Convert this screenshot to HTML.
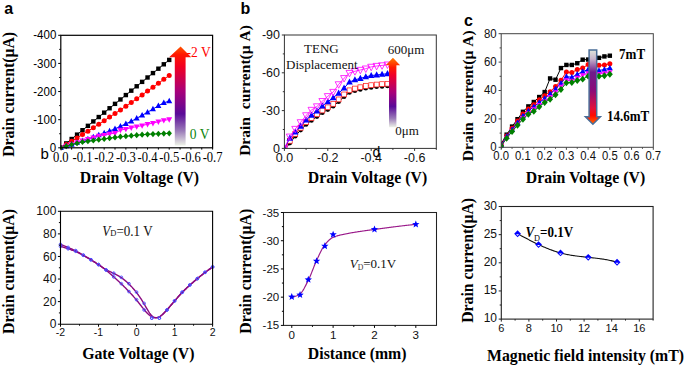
<!DOCTYPE html>
<html><head><meta charset="utf-8"><style>
html,body{margin:0;padding:0;background:#fff;}
body{width:685px;height:366px;overflow:hidden;}
svg{display:block;}
</style></head><body>
<svg width="685" height="366" viewBox="0 0 685 366">
<rect width="685" height="366" fill="#fff"/>
<defs>
<linearGradient id="ga" x1="0" y1="0" x2="0" y2="1">
<stop offset="0" stop-color="#ff5500"/>
<stop offset="0.08" stop-color="#ff1800"/>
<stop offset="0.2" stop-color="#f20020"/>
<stop offset="0.45" stop-color="#a8007a"/>
<stop offset="0.68" stop-color="#5a0a98"/>
<stop offset="0.85" stop-color="#9a7ab8"/>
<stop offset="1" stop-color="#eef3e8"/>
</linearGradient>
<linearGradient id="gb" x1="0" y1="0" x2="0" y2="1">
<stop offset="0" stop-color="#ff7a00"/>
<stop offset="0.14" stop-color="#ff1a00"/>
<stop offset="0.25" stop-color="#f0002a"/>
<stop offset="0.5" stop-color="#a8007a"/>
<stop offset="0.7" stop-color="#5a0a98"/>
<stop offset="0.87" stop-color="#9a7ab8"/>
<stop offset="1" stop-color="#eef3e8"/>
</linearGradient>
<linearGradient id="gc" x1="0" y1="0" x2="0" y2="1">
<stop offset="0" stop-color="#dfe6dc"/>
<stop offset="0.12" stop-color="#c8b4cc"/>
<stop offset="0.3" stop-color="#6e1c8c"/>
<stop offset="0.55" stop-color="#8c0a78"/>
<stop offset="0.78" stop-color="#e0103c"/>
<stop offset="0.88" stop-color="#ff0a00"/>
<stop offset="1" stop-color="#ff6a00"/>
</linearGradient>
</defs>
<clipPath id="cpa"><rect x="60.8" y="35.3" width="151.8" height="115.5"/></clipPath><g clip-path="url(#cpa)">
<polyline points="60.8,147.8 66.22,143.41 71.64,139.01 77.06,134.62 82.49,130.22 87.91,125.83 93.33,121.43 98.75,117.04 104.17,112.64 109.59,108.25 115.01,103.85 120.44,99.46 125.86,95.07 131.28,90.67 136.7,86.28 142.12,81.88 147.54,77.49 152.96,73.09 158.39,68.7 163.81,64.3 169.23,59.91" stroke="#000" stroke-width="1" fill="none" stroke-linejoin="round"/>
<rect x="58.6" y="145.6" width="4.4" height="4.4" fill="#000" />
<rect x="64.02" y="141.21" width="4.4" height="4.4" fill="#000" />
<rect x="69.44" y="136.81" width="4.4" height="4.4" fill="#000" />
<rect x="74.86" y="132.42" width="4.4" height="4.4" fill="#000" />
<rect x="80.29" y="128.02" width="4.4" height="4.4" fill="#000" />
<rect x="85.71" y="123.63" width="4.4" height="4.4" fill="#000" />
<rect x="91.13" y="119.23" width="4.4" height="4.4" fill="#000" />
<rect x="96.55" y="114.84" width="4.4" height="4.4" fill="#000" />
<rect x="101.97" y="110.44" width="4.4" height="4.4" fill="#000" />
<rect x="107.39" y="106.05" width="4.4" height="4.4" fill="#000" />
<rect x="112.81" y="101.65" width="4.4" height="4.4" fill="#000" />
<rect x="118.24" y="97.26" width="4.4" height="4.4" fill="#000" />
<rect x="123.66" y="92.87" width="4.4" height="4.4" fill="#000" />
<rect x="129.08" y="88.47" width="4.4" height="4.4" fill="#000" />
<rect x="134.5" y="84.08" width="4.4" height="4.4" fill="#000" />
<rect x="139.92" y="79.68" width="4.4" height="4.4" fill="#000" />
<rect x="145.34" y="75.29" width="4.4" height="4.4" fill="#000" />
<rect x="150.76" y="70.89" width="4.4" height="4.4" fill="#000" />
<rect x="156.19" y="66.5" width="4.4" height="4.4" fill="#000" />
<rect x="161.61" y="62.1" width="4.4" height="4.4" fill="#000" />
<rect x="167.03" y="57.71" width="4.4" height="4.4" fill="#000" />
<polyline points="60.8,147.8 66.22,144.55 71.64,141.25 77.06,137.92 82.49,134.55 87.91,131.14 93.33,127.7 98.75,124.21 104.17,120.69 109.59,117.12 115.01,113.52 120.44,109.88 125.86,106.2 131.28,102.49 136.7,98.73 142.12,94.93 147.54,91.1 152.96,87.23 158.39,83.32 163.81,79.37 169.23,75.38" stroke="#f00" stroke-width="1" fill="none" stroke-linejoin="round"/>
<circle cx="60.8" cy="147.8" r="2.5" fill="#f00" />
<circle cx="66.22" cy="144.55" r="2.5" fill="#f00" />
<circle cx="71.64" cy="141.25" r="2.5" fill="#f00" />
<circle cx="77.06" cy="137.92" r="2.5" fill="#f00" />
<circle cx="82.49" cy="134.55" r="2.5" fill="#f00" />
<circle cx="87.91" cy="131.14" r="2.5" fill="#f00" />
<circle cx="93.33" cy="127.7" r="2.5" fill="#f00" />
<circle cx="98.75" cy="124.21" r="2.5" fill="#f00" />
<circle cx="104.17" cy="120.69" r="2.5" fill="#f00" />
<circle cx="109.59" cy="117.12" r="2.5" fill="#f00" />
<circle cx="115.01" cy="113.52" r="2.5" fill="#f00" />
<circle cx="120.44" cy="109.88" r="2.5" fill="#f00" />
<circle cx="125.86" cy="106.2" r="2.5" fill="#f00" />
<circle cx="131.28" cy="102.49" r="2.5" fill="#f00" />
<circle cx="136.7" cy="98.73" r="2.5" fill="#f00" />
<circle cx="142.12" cy="94.93" r="2.5" fill="#f00" />
<circle cx="147.54" cy="91.1" r="2.5" fill="#f00" />
<circle cx="152.96" cy="87.23" r="2.5" fill="#f00" />
<circle cx="158.39" cy="83.32" r="2.5" fill="#f00" />
<circle cx="163.81" cy="79.37" r="2.5" fill="#f00" />
<circle cx="169.23" cy="75.38" r="2.5" fill="#f00" />
<polyline points="60.8,147.8 66.22,146.11 71.64,144.43 77.06,142.6 82.49,140.77 87.91,138.94 93.33,136.97 98.75,135 104.17,133.03 109.59,130.93 115.01,128.82 120.44,126.28 125.86,123.78 131.28,121.36 136.7,118.3 142.12,115.22 147.54,112.22 152.96,109.02 158.39,105.75 163.81,102.79 169.23,101.11" stroke="#00f" stroke-width="1" fill="none" stroke-linejoin="round"/>
<polygon points="60.8,144.5 63.8,150.05 57.8,150.05" fill="#00f" />
<polygon points="66.22,142.81 69.22,148.36 63.22,148.36" fill="#00f" />
<polygon points="71.64,141.12 74.64,146.68 68.64,146.68" fill="#00f" />
<polygon points="77.06,139.3 80.06,144.85 74.06,144.85" fill="#00f" />
<polygon points="82.49,137.47 85.49,143.02 79.49,143.02" fill="#00f" />
<polygon points="87.91,135.64 90.91,141.19 84.91,141.19" fill="#00f" />
<polygon points="93.33,133.67 96.33,139.22 90.33,139.22" fill="#00f" />
<polygon points="98.75,131.7 101.75,137.25 95.75,137.25" fill="#00f" />
<polygon points="104.17,129.73 107.17,135.28 101.17,135.28" fill="#00f" />
<polygon points="109.59,127.63 112.59,133.18 106.59,133.18" fill="#00f" />
<polygon points="115.01,125.52 118.01,131.07 112.01,131.07" fill="#00f" />
<polygon points="120.44,122.98 123.44,128.53 117.44,128.53" fill="#00f" />
<polygon points="125.86,120.48 128.86,126.03 122.86,126.03" fill="#00f" />
<polygon points="131.28,118.06 134.28,123.61 128.28,123.61" fill="#00f" />
<polygon points="136.7,115 139.7,120.55 133.7,120.55" fill="#00f" />
<polygon points="142.12,111.92 145.12,117.47 139.12,117.47" fill="#00f" />
<polygon points="147.54,108.92 150.54,114.47 144.54,114.47" fill="#00f" />
<polygon points="152.96,105.72 155.96,111.27 149.96,111.27" fill="#00f" />
<polygon points="158.39,102.45 161.39,108 155.39,108" fill="#00f" />
<polygon points="163.81,99.49 166.81,105.04 160.81,105.04" fill="#00f" />
<polygon points="169.23,97.81 172.23,103.36 166.23,103.36" fill="#00f" />
<polyline points="60.8,147.8 66.22,145.97 71.64,144.14 77.06,142.46 82.49,140.77 87.91,139.22 93.33,137.68 98.75,136.06 104.17,135.09 109.59,133.96 115.01,133.19 120.44,130.08 125.86,129.1 131.28,127.69 136.7,126.63 142.12,125.61 147.54,124.2 152.96,123.13 158.39,121.73 163.81,120.35 169.23,119.53" stroke="#f0f" stroke-width="1" fill="none" stroke-linejoin="round"/>
<polygon points="60.8,151.05 63.75,145.59 57.85,145.59" fill="#f0f" />
<polygon points="66.22,149.22 69.17,143.76 63.27,143.76" fill="#f0f" />
<polygon points="71.64,147.39 74.59,141.93 68.69,141.93" fill="#f0f" />
<polygon points="77.06,145.7 80.01,140.24 74.11,140.24" fill="#f0f" />
<polygon points="82.49,144.01 85.44,138.56 79.54,138.56" fill="#f0f" />
<polygon points="87.91,142.47 90.86,137.01 84.96,137.01" fill="#f0f" />
<polygon points="93.33,140.92 96.28,135.46 90.38,135.46" fill="#f0f" />
<polygon points="98.75,139.31 101.7,133.85 95.8,133.85" fill="#f0f" />
<polygon points="104.17,138.33 107.12,132.88 101.22,132.88" fill="#f0f" />
<polygon points="109.59,137.21 112.54,131.75 106.64,131.75" fill="#f0f" />
<polygon points="115.01,136.44 117.96,130.98 112.06,130.98" fill="#f0f" />
<polygon points="120.44,133.33 123.39,127.87 117.49,127.87" fill="#f0f" />
<polygon points="125.86,132.34 128.81,126.88 122.91,126.88" fill="#f0f" />
<polygon points="131.28,130.94 134.23,125.48 128.33,125.48" fill="#f0f" />
<polygon points="136.7,129.87 139.65,124.42 133.75,124.42" fill="#f0f" />
<polygon points="142.12,128.85 145.07,123.39 139.17,123.39" fill="#f0f" />
<polygon points="147.54,127.45 150.49,121.99 144.59,121.99" fill="#f0f" />
<polygon points="152.96,126.38 155.91,120.92 150.01,120.92" fill="#f0f" />
<polygon points="158.39,124.97 161.34,119.52 155.44,119.52" fill="#f0f" />
<polygon points="163.81,123.59 166.76,118.13 160.86,118.13" fill="#f0f" />
<polygon points="169.23,122.78 172.18,117.32 166.28,117.32" fill="#f0f" />
<polyline points="60.8,147.8 66.22,146.15 71.64,144.51 77.06,143.26 82.49,142.01 87.91,141.25 93.33,140.49 98.75,139.69 104.17,138.88 109.59,138.15 115.01,137.42 120.44,136.73 125.86,136.2 131.28,135.67 136.7,135.14 142.12,134.72 147.54,134.3 152.96,134.05 158.39,133.81 163.81,133.56 169.23,133.32" stroke="#008000" stroke-width="1" fill="none" stroke-linejoin="round"/>
<polygon points="60.8,144.7 63.5,147.8 60.8,150.91 58.1,147.8" fill="#008000" />
<polygon points="66.22,143.05 68.92,146.15 66.22,149.26 63.52,146.15" fill="#008000" />
<polygon points="71.64,141.4 74.34,144.51 71.64,147.61 68.94,144.51" fill="#008000" />
<polygon points="77.06,140.15 79.76,143.26 77.06,146.36 74.36,143.26" fill="#008000" />
<polygon points="82.49,138.9 85.19,142.01 82.49,145.11 79.79,142.01" fill="#008000" />
<polygon points="87.91,138.14 90.61,141.25 87.91,144.35 85.21,141.25" fill="#008000" />
<polygon points="93.33,137.38 96.03,140.49 93.33,143.59 90.63,140.49" fill="#008000" />
<polygon points="98.75,136.58 101.45,139.69 98.75,142.79 96.05,139.69" fill="#008000" />
<polygon points="104.17,135.78 106.87,138.88 104.17,141.99 101.47,138.88" fill="#008000" />
<polygon points="109.59,135.05 112.29,138.15 109.59,141.26 106.89,138.15" fill="#008000" />
<polygon points="115.01,134.31 117.71,137.42 115.01,140.52 112.31,137.42" fill="#008000" />
<polygon points="120.44,133.62 123.14,136.73 120.44,139.83 117.74,136.73" fill="#008000" />
<polygon points="125.86,133.09 128.56,136.2 125.86,139.3 123.16,136.2" fill="#008000" />
<polygon points="131.28,132.57 133.98,135.67 131.28,138.78 128.58,135.67" fill="#008000" />
<polygon points="136.7,132.04 139.4,135.14 136.7,138.25 134,135.14" fill="#008000" />
<polygon points="142.12,131.62 144.82,134.72 142.12,137.83 139.42,134.72" fill="#008000" />
<polygon points="147.54,131.2 150.24,134.3 147.54,137.41 144.84,134.3" fill="#008000" />
<polygon points="152.96,130.95 155.66,134.05 152.96,137.16 150.26,134.05" fill="#008000" />
<polygon points="158.39,130.7 161.09,133.81 158.39,136.91 155.69,133.81" fill="#008000" />
<polygon points="163.81,130.46 166.51,133.56 163.81,136.67 161.11,133.56" fill="#008000" />
<polygon points="169.23,130.21 171.93,133.32 169.23,136.42 166.53,133.32" fill="#008000" />
</g>
<text transform="translate(186.6,56.8) scale(0.89,1)" font-family='"Liberation Serif", serif' font-size="15.2" text-anchor="start" font-weight="normal" font-style="normal" fill="#f00" xml:space="preserve">-2 V</text>
<path d="M174.8,145.6 L174.8,57.2 L169.1,57.2 L180.6,46.6 L191.2,57.2 L185.6,57.2 L185.6,145.6 Z" fill="url(#ga)"/>
<text transform="translate(189.8,138.5) scale(0.89,1)" font-family='"Liberation Serif", serif' font-size="15.2" text-anchor="start" font-weight="normal" font-style="normal" fill="#0a840a" >0 V</text>
<rect x="60.8" y="35.3" width="151.8" height="112.5" fill="none" stroke="#000" stroke-width="1.2"/>
<line x1="58.2" y1="147.8" x2="60.8" y2="147.8" stroke="#000" stroke-width="1"/>
<line x1="59.2" y1="133.74" x2="60.8" y2="133.74" stroke="#000" stroke-width="1"/>
<line x1="58.2" y1="119.68" x2="60.8" y2="119.68" stroke="#000" stroke-width="1"/>
<line x1="59.2" y1="105.61" x2="60.8" y2="105.61" stroke="#000" stroke-width="1"/>
<line x1="58.2" y1="91.55" x2="60.8" y2="91.55" stroke="#000" stroke-width="1"/>
<line x1="59.2" y1="77.49" x2="60.8" y2="77.49" stroke="#000" stroke-width="1"/>
<line x1="58.2" y1="63.42" x2="60.8" y2="63.42" stroke="#000" stroke-width="1"/>
<line x1="59.2" y1="49.36" x2="60.8" y2="49.36" stroke="#000" stroke-width="1"/>
<line x1="58.2" y1="35.3" x2="60.8" y2="35.3" stroke="#000" stroke-width="1"/>
<line x1="60.8" y1="147.8" x2="60.8" y2="149.6" stroke="#000" stroke-width="1"/>
<line x1="71.64" y1="147.8" x2="71.64" y2="149.6" stroke="#000" stroke-width="1"/>
<line x1="82.49" y1="147.8" x2="82.49" y2="149.6" stroke="#000" stroke-width="1"/>
<line x1="93.33" y1="147.8" x2="93.33" y2="149.6" stroke="#000" stroke-width="1"/>
<line x1="104.17" y1="147.8" x2="104.17" y2="149.6" stroke="#000" stroke-width="1"/>
<line x1="115.01" y1="147.8" x2="115.01" y2="149.6" stroke="#000" stroke-width="1"/>
<line x1="125.86" y1="147.8" x2="125.86" y2="149.6" stroke="#000" stroke-width="1"/>
<line x1="136.7" y1="147.8" x2="136.7" y2="149.6" stroke="#000" stroke-width="1"/>
<line x1="147.54" y1="147.8" x2="147.54" y2="149.6" stroke="#000" stroke-width="1"/>
<line x1="158.39" y1="147.8" x2="158.39" y2="149.6" stroke="#000" stroke-width="1"/>
<line x1="169.23" y1="147.8" x2="169.23" y2="149.6" stroke="#000" stroke-width="1"/>
<line x1="180.07" y1="147.8" x2="180.07" y2="149.6" stroke="#000" stroke-width="1"/>
<line x1="190.91" y1="147.8" x2="190.91" y2="149.6" stroke="#000" stroke-width="1"/>
<line x1="201.76" y1="147.8" x2="201.76" y2="149.6" stroke="#000" stroke-width="1"/>
<line x1="212.6" y1="147.8" x2="212.6" y2="149.6" stroke="#000" stroke-width="1"/>
<text transform="translate(56.3,151.9) scale(0.93,1)" font-family='"Liberation Sans", sans-serif' font-size="12.4" text-anchor="end" font-weight="normal" font-style="normal" fill="#000" >0</text>
<text transform="translate(56.3,123.78) scale(0.93,1)" font-family='"Liberation Sans", sans-serif' font-size="12.4" text-anchor="end" font-weight="normal" font-style="normal" fill="#000" >-100</text>
<text transform="translate(56.3,95.65) scale(0.93,1)" font-family='"Liberation Sans", sans-serif' font-size="12.4" text-anchor="end" font-weight="normal" font-style="normal" fill="#000" >-200</text>
<text transform="translate(56.3,67.52) scale(0.93,1)" font-family='"Liberation Sans", sans-serif' font-size="12.4" text-anchor="end" font-weight="normal" font-style="normal" fill="#000" >-300</text>
<text transform="translate(56.3,39.4) scale(0.93,1)" font-family='"Liberation Sans", sans-serif' font-size="12.4" text-anchor="end" font-weight="normal" font-style="normal" fill="#000" >-400</text>
<text transform="translate(60.8,161.7) scale(0.9,1)" font-family='"Liberation Serif", serif' font-size="14" text-anchor="middle" fill="#000">0.0</text>
<text transform="translate(82.49,161.7) scale(0.9,1)" font-family='"Liberation Serif", serif' font-size="14" text-anchor="middle" fill="#000">-0.1</text>
<text transform="translate(104.17,161.7) scale(0.9,1)" font-family='"Liberation Serif", serif' font-size="14" text-anchor="middle" fill="#000">-0.2</text>
<text transform="translate(125.86,161.7) scale(0.9,1)" font-family='"Liberation Serif", serif' font-size="14" text-anchor="middle" fill="#000">-0.3</text>
<text transform="translate(147.54,161.7) scale(0.9,1)" font-family='"Liberation Serif", serif' font-size="14" text-anchor="middle" fill="#000">-0.4</text>
<text transform="translate(169.23,161.7) scale(0.9,1)" font-family='"Liberation Serif", serif' font-size="14" text-anchor="middle" fill="#000">-0.5</text>
<text transform="translate(190.91,161.7) scale(0.9,1)" font-family='"Liberation Serif", serif' font-size="14" text-anchor="middle" fill="#000">-0.6</text>
<text transform="translate(212.6,161.7) scale(0.9,1)" font-family='"Liberation Serif", serif' font-size="14" text-anchor="middle" fill="#000">-0.7</text>
<text x="139.4" y="182.7" font-family='"Liberation Serif", serif' font-size="15.8" text-anchor="middle" font-weight="bold" font-style="normal" fill="#000" >Drain Voltage (V)</text>
<text transform="translate(13.9,94.4) rotate(-90)" x="0" y="0" font-family='"Liberation Serif", serif' font-size="15.8" font-weight="bold" text-anchor="middle" fill="#000" xml:space="preserve">Drain current(μA)</text>
<text x="4.2" y="13.7" font-family='"Liberation Sans", sans-serif' font-size="16" text-anchor="start" font-weight="bold" font-style="normal" fill="#000" >a</text>
<text x="40.6" y="158.5" font-family='"Liberation Sans", sans-serif' font-size="15" text-anchor="start" font-weight="normal" font-style="normal" fill="#000" >b</text>
<clipPath id="cpb"><rect x="284.4" y="35.0" width="151.9" height="113.4"/></clipPath><g clip-path="url(#cpb)">
<polyline points="284.4,150.67 289.82,143.11 295.25,136.18 300.67,130.08 306.1,124.51 311.52,120.38 316.95,116.58 322.38,112.74 327.8,109.59 333.23,106.14 338.65,101.65 344.07,96.69 349.5,92.57 354.93,90.82 360.35,89.49 365.77,88.23 371.2,87.42 376.62,86.82 382.05,86.38 387.48,86.03" stroke="#000" stroke-width="1" fill="none" stroke-linejoin="round"/>
<circle cx="284.4" cy="150.67" r="2.3" fill="#000" />
<circle cx="289.82" cy="143.11" r="2.3" fill="#000" />
<circle cx="295.25" cy="136.18" r="2.3" fill="#000" />
<circle cx="300.67" cy="130.08" r="2.3" fill="#000" />
<circle cx="306.1" cy="124.51" r="2.3" fill="#000" />
<circle cx="311.52" cy="120.38" r="2.3" fill="#000" />
<circle cx="316.95" cy="116.58" r="2.3" fill="#000" />
<circle cx="322.38" cy="112.74" r="2.3" fill="#000" />
<circle cx="327.8" cy="109.59" r="2.3" fill="#000" />
<circle cx="333.23" cy="106.14" r="2.3" fill="#000" />
<circle cx="338.65" cy="101.65" r="2.3" fill="#000" />
<circle cx="344.07" cy="96.69" r="2.3" fill="#000" />
<circle cx="349.5" cy="92.57" r="2.3" fill="#000" />
<circle cx="354.93" cy="90.82" r="2.3" fill="#000" />
<circle cx="360.35" cy="89.49" r="2.3" fill="#000" />
<circle cx="365.77" cy="88.23" r="2.3" fill="#000" />
<circle cx="371.2" cy="87.42" r="2.3" fill="#000" />
<circle cx="376.62" cy="86.82" r="2.3" fill="#000" />
<circle cx="382.05" cy="86.38" r="2.3" fill="#000" />
<circle cx="387.48" cy="86.03" r="2.3" fill="#000" />
<polyline points="284.4,148.4 289.82,140.84 295.25,133.91 300.67,127.81 306.1,122.24 311.52,118.11 316.95,114.32 322.38,110.47 327.8,107.32 333.23,103.87 338.65,99.39 344.07,94.42 349.5,90.3 354.93,88.55 360.35,87.22 365.77,85.96 371.2,85.15 376.62,84.55 382.05,84.11 387.48,83.76" stroke="#f00" stroke-width="1" fill="none" stroke-linejoin="round"/>
<rect x="282" y="146" width="4.8" height="4.8" fill="#fff" stroke="#f22" stroke-width="0.75"/>
<rect x="287.43" y="138.44" width="4.8" height="4.8" fill="#fff" stroke="#f22" stroke-width="0.75"/>
<rect x="292.85" y="131.51" width="4.8" height="4.8" fill="#fff" stroke="#f22" stroke-width="0.75"/>
<rect x="298.27" y="125.41" width="4.8" height="4.8" fill="#fff" stroke="#f22" stroke-width="0.75"/>
<rect x="303.7" y="119.84" width="4.8" height="4.8" fill="#fff" stroke="#f22" stroke-width="0.75"/>
<rect x="309.12" y="115.71" width="4.8" height="4.8" fill="#fff" stroke="#f22" stroke-width="0.75"/>
<rect x="314.55" y="111.92" width="4.8" height="4.8" fill="#fff" stroke="#f22" stroke-width="0.75"/>
<rect x="319.98" y="108.07" width="4.8" height="4.8" fill="#fff" stroke="#f22" stroke-width="0.75"/>
<rect x="325.4" y="104.92" width="4.8" height="4.8" fill="#fff" stroke="#f22" stroke-width="0.75"/>
<rect x="330.83" y="101.47" width="4.8" height="4.8" fill="#fff" stroke="#f22" stroke-width="0.75"/>
<rect x="336.25" y="96.99" width="4.8" height="4.8" fill="#fff" stroke="#f22" stroke-width="0.75"/>
<rect x="341.68" y="92.02" width="4.8" height="4.8" fill="#fff" stroke="#f22" stroke-width="0.75"/>
<rect x="347.1" y="87.9" width="4.8" height="4.8" fill="#fff" stroke="#f22" stroke-width="0.75"/>
<rect x="352.53" y="86.15" width="4.8" height="4.8" fill="#fff" stroke="#f22" stroke-width="0.75"/>
<rect x="357.95" y="84.82" width="4.8" height="4.8" fill="#fff" stroke="#f22" stroke-width="0.75"/>
<rect x="363.38" y="83.56" width="4.8" height="4.8" fill="#fff" stroke="#f22" stroke-width="0.75"/>
<rect x="368.8" y="82.75" width="4.8" height="4.8" fill="#fff" stroke="#f22" stroke-width="0.75"/>
<rect x="374.23" y="82.15" width="4.8" height="4.8" fill="#fff" stroke="#f22" stroke-width="0.75"/>
<rect x="379.65" y="81.71" width="4.8" height="4.8" fill="#fff" stroke="#f22" stroke-width="0.75"/>
<rect x="385.08" y="81.36" width="4.8" height="4.8" fill="#fff" stroke="#f22" stroke-width="0.75"/>
<polyline points="284.4,148.4 289.82,138.21 295.25,132.1 300.67,126.24 306.1,120.11 311.52,115.22 316.95,110.95 322.38,105.94 327.8,101.8 333.23,97.71 338.65,93.21 344.07,88.12 349.5,82.07 354.93,79.86 360.35,78.4 365.77,76.86 371.2,75.57 376.62,74.96 382.05,74.38 387.48,73.68" stroke="#00f" stroke-width="1" fill="none" stroke-linejoin="round"/>
<polygon points="284.4,144.77 287.7,150.88 281.1,150.88" fill="#00f" />
<polygon points="289.82,134.58 293.12,140.69 286.52,140.69" fill="#00f" />
<polygon points="295.25,128.47 298.55,134.57 291.95,134.57" fill="#00f" />
<polygon points="300.67,122.61 303.97,128.71 297.37,128.71" fill="#00f" />
<polygon points="306.1,116.48 309.4,122.58 302.8,122.58" fill="#00f" />
<polygon points="311.52,111.59 314.82,117.69 308.22,117.69" fill="#00f" />
<polygon points="316.95,107.32 320.25,113.42 313.65,113.42" fill="#00f" />
<polygon points="322.38,102.31 325.68,108.42 319.07,108.42" fill="#00f" />
<polygon points="327.8,98.17 331.1,104.28 324.5,104.28" fill="#00f" />
<polygon points="333.23,94.08 336.53,100.19 329.93,100.19" fill="#00f" />
<polygon points="338.65,89.58 341.95,95.69 335.35,95.69" fill="#00f" />
<polygon points="344.07,84.49 347.38,90.6 340.77,90.6" fill="#00f" />
<polygon points="349.5,78.44 352.8,84.55 346.2,84.55" fill="#00f" />
<polygon points="354.93,76.23 358.23,82.33 351.62,82.33" fill="#00f" />
<polygon points="360.35,74.77 363.65,80.88 357.05,80.88" fill="#00f" />
<polygon points="365.77,73.23 369.07,79.33 362.47,79.33" fill="#00f" />
<polygon points="371.2,71.94 374.5,78.05 367.9,78.05" fill="#00f" />
<polygon points="376.62,71.33 379.93,77.43 373.32,77.43" fill="#00f" />
<polygon points="382.05,70.75 385.35,76.86 378.75,76.86" fill="#00f" />
<polygon points="387.48,70.05 390.78,76.16 384.18,76.16" fill="#00f" />
<polyline points="284.4,148.4 289.82,136.68 295.25,129 300.67,122.32 306.1,115.39 311.52,109.97 316.95,106.44 322.38,101.15 327.8,96.24 333.23,92.01 338.65,84.39 344.07,78.19 349.5,73.04 354.93,71.29 360.35,69.96 365.77,68.63 371.2,66.88 376.62,66.01 382.05,65.43 387.48,64.61" stroke="#f0f" stroke-width="0.8" fill="none" stroke-linejoin="round"/>
<polygon points="284.4,152.25 287.9,145.78 280.9,145.78" fill="none" stroke="#f0f" stroke-width="0.8"/>
<polygon points="289.82,140.53 293.32,134.06 286.32,134.06" fill="none" stroke="#f0f" stroke-width="0.8"/>
<polygon points="295.25,132.85 298.75,126.37 291.75,126.37" fill="none" stroke="#f0f" stroke-width="0.8"/>
<polygon points="300.67,126.17 304.17,119.69 297.17,119.69" fill="none" stroke="#f0f" stroke-width="0.8"/>
<polygon points="306.1,119.24 309.6,112.76 302.6,112.76" fill="none" stroke="#f0f" stroke-width="0.8"/>
<polygon points="311.52,113.82 315.02,107.34 308.02,107.34" fill="none" stroke="#f0f" stroke-width="0.8"/>
<polygon points="316.95,110.29 320.45,103.82 313.45,103.82" fill="none" stroke="#f0f" stroke-width="0.8"/>
<polygon points="322.38,105 325.88,98.52 318.88,98.52" fill="none" stroke="#f0f" stroke-width="0.8"/>
<polygon points="327.8,100.09 331.3,93.61 324.3,93.61" fill="none" stroke="#f0f" stroke-width="0.8"/>
<polygon points="333.23,95.86 336.73,89.39 329.73,89.39" fill="none" stroke="#f0f" stroke-width="0.8"/>
<polygon points="338.65,88.24 342.15,81.77 335.15,81.77" fill="none" stroke="#f0f" stroke-width="0.8"/>
<polygon points="344.07,82.04 347.57,75.57 340.57,75.57" fill="none" stroke="#f0f" stroke-width="0.8"/>
<polygon points="349.5,76.89 353,70.41 346,70.41" fill="none" stroke="#f0f" stroke-width="0.8"/>
<polygon points="354.93,75.14 358.43,68.66 351.43,68.66" fill="none" stroke="#f0f" stroke-width="0.8"/>
<polygon points="360.35,73.81 363.85,67.33 356.85,67.33" fill="none" stroke="#f0f" stroke-width="0.8"/>
<polygon points="365.77,72.48 369.27,66 362.27,66" fill="none" stroke="#f0f" stroke-width="0.8"/>
<polygon points="371.2,70.73 374.7,64.25 367.7,64.25" fill="none" stroke="#f0f" stroke-width="0.8"/>
<polygon points="376.62,69.86 380.12,63.38 373.12,63.38" fill="none" stroke="#f0f" stroke-width="0.8"/>
<polygon points="382.05,69.28 385.55,62.8 378.55,62.8" fill="none" stroke="#f0f" stroke-width="0.8"/>
<polygon points="387.48,68.46 390.98,61.98 383.98,61.98" fill="none" stroke="#f0f" stroke-width="0.8"/>
</g>
<path d="M389,127.3 L389,65.2 L385.7,65.2 L392.95,57.8 L400.1,65.2 L396.4,65.2 L396.4,127.3 Z" fill="url(#gb)"/>
<text x="387.7" y="53.5" font-family='"Liberation Serif", serif' font-size="13" text-anchor="start" font-weight="normal" font-style="normal" fill="#111" >600μm</text>
<text x="395.3" y="134.8" font-family='"Liberation Serif", serif' font-size="13" text-anchor="start" font-weight="normal" font-style="normal" fill="#111" >0μm</text>
<text x="304.1" y="53.2" font-family='"Liberation Serif", serif' font-size="13" text-anchor="start" font-weight="normal" font-style="normal" fill="#111" >TENG</text>
<text x="286.1" y="68.6" font-family='"Liberation Serif", serif' font-size="13" text-anchor="start" font-weight="normal" font-style="normal" fill="#111" >Displacement</text>
<rect x="284.4" y="35.0" width="151.9" height="113.4" fill="none" stroke="#333" stroke-width="1"/>
<line x1="281.8" y1="148.4" x2="284.4" y2="148.4" stroke="#333" stroke-width="1"/>
<line x1="282.8" y1="129.5" x2="284.4" y2="129.5" stroke="#333" stroke-width="1"/>
<line x1="281.8" y1="110.6" x2="284.4" y2="110.6" stroke="#333" stroke-width="1"/>
<line x1="282.8" y1="91.7" x2="284.4" y2="91.7" stroke="#333" stroke-width="1"/>
<line x1="281.8" y1="72.8" x2="284.4" y2="72.8" stroke="#333" stroke-width="1"/>
<line x1="282.8" y1="53.9" x2="284.4" y2="53.9" stroke="#333" stroke-width="1"/>
<line x1="281.8" y1="35" x2="284.4" y2="35" stroke="#333" stroke-width="1"/>
<line x1="284.4" y1="148.4" x2="284.4" y2="150.9" stroke="#333" stroke-width="1"/>
<line x1="306.1" y1="148.4" x2="306.1" y2="149.9" stroke="#333" stroke-width="1"/>
<line x1="327.8" y1="148.4" x2="327.8" y2="150.9" stroke="#333" stroke-width="1"/>
<line x1="349.5" y1="148.4" x2="349.5" y2="149.9" stroke="#333" stroke-width="1"/>
<line x1="371.2" y1="148.4" x2="371.2" y2="150.9" stroke="#333" stroke-width="1"/>
<line x1="392.9" y1="148.4" x2="392.9" y2="149.9" stroke="#333" stroke-width="1"/>
<line x1="414.6" y1="148.4" x2="414.6" y2="150.9" stroke="#333" stroke-width="1"/>
<line x1="436.3" y1="148.4" x2="436.3" y2="149.9" stroke="#333" stroke-width="1"/>
<text x="280" y="152.8" font-family='"Liberation Sans", sans-serif' font-size="12.5" text-anchor="end" font-weight="normal" font-style="normal" fill="#111" >0</text>
<text x="280" y="115" font-family='"Liberation Sans", sans-serif' font-size="12.5" text-anchor="end" font-weight="normal" font-style="normal" fill="#111" >-30</text>
<text x="280" y="77.2" font-family='"Liberation Sans", sans-serif' font-size="12.5" text-anchor="end" font-weight="normal" font-style="normal" fill="#111" >-60</text>
<text x="280" y="39.4" font-family='"Liberation Sans", sans-serif' font-size="12.5" text-anchor="end" font-weight="normal" font-style="normal" fill="#111" >-90</text>
<text x="284.4" y="161.6" font-family='"Liberation Sans", sans-serif' font-size="12.5" text-anchor="middle" font-weight="normal" font-style="normal" fill="#111" >0.0</text>
<text x="327.8" y="161.6" font-family='"Liberation Sans", sans-serif' font-size="12.5" text-anchor="middle" font-weight="normal" font-style="normal" fill="#111" >-0.2</text>
<text x="371.2" y="161.6" font-family='"Liberation Sans", sans-serif' font-size="12.5" text-anchor="middle" font-weight="normal" font-style="normal" fill="#111" >-0.4</text>
<text x="414.6" y="161.6" font-family='"Liberation Sans", sans-serif' font-size="12.5" text-anchor="middle" font-weight="normal" font-style="normal" fill="#111" >-0.6</text>
<text x="367.5" y="183" font-family='"Liberation Serif", serif' font-size="15.8" text-anchor="middle" font-weight="bold" font-style="normal" fill="#000" >Drain Voltage (V)</text>
<text transform="translate(250.4,90.5) rotate(-90)" x="0" y="0" font-family='"Liberation Serif", serif' font-size="15.55" font-weight="bold" text-anchor="middle" fill="#000" xml:space="preserve">Drain  current(μ A)</text>
<text x="240.6" y="13.7" font-family='"Liberation Sans", sans-serif' font-size="16" text-anchor="start" font-weight="bold" font-style="normal" fill="#000" >b</text>
<text x="372.5" y="156.5" font-family='"Liberation Sans", sans-serif' font-size="14" text-anchor="start" font-weight="normal" font-style="normal" fill="#000" >d</text>
<clipPath id="cpc"><rect x="501.2" y="33.7" width="152.1" height="116.6"/></clipPath><g clip-path="url(#cpc)">
<polyline points="501.2,143.75 506.63,134.66 512.06,126.57 517.5,119.18 522.93,111.8 528.36,106.4 533.79,102 539.23,97.03 544.66,92.06 550.09,78.43 555.52,79.71 560.95,68.06 566.39,64.94 571.82,64.94 577.25,63.24 582.68,59.69 588.11,59.54 593.55,58.55 598.98,57.84 604.41,56.42 609.84,55.71" stroke="#000" stroke-width="1" fill="none" stroke-linejoin="round"/>
<rect x="499" y="141.55" width="4.4" height="4.4" fill="#000" />
<rect x="504.43" y="132.46" width="4.4" height="4.4" fill="#000" />
<rect x="509.86" y="124.37" width="4.4" height="4.4" fill="#000" />
<rect x="515.3" y="116.98" width="4.4" height="4.4" fill="#000" />
<rect x="520.73" y="109.6" width="4.4" height="4.4" fill="#000" />
<rect x="526.16" y="104.2" width="4.4" height="4.4" fill="#000" />
<rect x="531.59" y="99.8" width="4.4" height="4.4" fill="#000" />
<rect x="537.02" y="94.83" width="4.4" height="4.4" fill="#000" />
<rect x="542.46" y="89.86" width="4.4" height="4.4" fill="#000" />
<rect x="547.89" y="76.23" width="4.4" height="4.4" fill="#000" />
<rect x="553.32" y="77.51" width="4.4" height="4.4" fill="#000" />
<rect x="558.75" y="65.86" width="4.4" height="4.4" fill="#000" />
<rect x="564.19" y="62.74" width="4.4" height="4.4" fill="#000" />
<rect x="569.62" y="62.74" width="4.4" height="4.4" fill="#000" />
<rect x="575.05" y="61.04" width="4.4" height="4.4" fill="#000" />
<rect x="580.48" y="57.49" width="4.4" height="4.4" fill="#000" />
<rect x="585.91" y="57.34" width="4.4" height="4.4" fill="#000" />
<rect x="591.35" y="56.35" width="4.4" height="4.4" fill="#000" />
<rect x="596.78" y="55.64" width="4.4" height="4.4" fill="#000" />
<rect x="602.21" y="54.22" width="4.4" height="4.4" fill="#000" />
<rect x="607.64" y="53.51" width="4.4" height="4.4" fill="#000" />
<polyline points="501.2,144.46 506.63,135.94 512.06,128.13 517.5,121.03 522.93,113.93 528.36,108.96 533.79,104.7 539.23,99.73 544.66,95.75 550.09,91.64 555.52,86.52 560.95,80.28 566.39,72.04 571.82,72.61 577.25,69.48 582.68,68.06 588.11,64.51 593.55,64.94 598.98,65.37 604.41,65.08 609.84,63.66" stroke="#f00" stroke-width="1" fill="none" stroke-linejoin="round"/>
<circle cx="501.2" cy="144.46" r="2.5" fill="#f00" />
<circle cx="506.63" cy="135.94" r="2.5" fill="#f00" />
<circle cx="512.06" cy="128.13" r="2.5" fill="#f00" />
<circle cx="517.5" cy="121.03" r="2.5" fill="#f00" />
<circle cx="522.93" cy="113.93" r="2.5" fill="#f00" />
<circle cx="528.36" cy="108.96" r="2.5" fill="#f00" />
<circle cx="533.79" cy="104.7" r="2.5" fill="#f00" />
<circle cx="539.23" cy="99.73" r="2.5" fill="#f00" />
<circle cx="544.66" cy="95.75" r="2.5" fill="#f00" />
<circle cx="550.09" cy="91.64" r="2.5" fill="#f00" />
<circle cx="555.52" cy="86.52" r="2.5" fill="#f00" />
<circle cx="560.95" cy="80.28" r="2.5" fill="#f00" />
<circle cx="566.39" cy="72.04" r="2.5" fill="#f00" />
<circle cx="571.82" cy="72.61" r="2.5" fill="#f00" />
<circle cx="577.25" cy="69.48" r="2.5" fill="#f00" />
<circle cx="582.68" cy="68.06" r="2.5" fill="#f00" />
<circle cx="588.11" cy="64.51" r="2.5" fill="#f00" />
<circle cx="593.55" cy="64.94" r="2.5" fill="#f00" />
<circle cx="598.98" cy="65.37" r="2.5" fill="#f00" />
<circle cx="604.41" cy="65.08" r="2.5" fill="#f00" />
<circle cx="609.84" cy="63.66" r="2.5" fill="#f00" />
<polyline points="501.2,145.17 506.63,136.65 512.06,129.55 517.5,122.73 522.93,116.06 528.36,111.09 533.79,106.83 539.23,102.57 544.66,98.45 550.09,93.91 555.52,89.08 560.95,83.26 566.39,76.58 571.82,77.29 577.25,74.31 582.68,71.61 588.11,69.48 593.55,69.91 598.98,70.48 604.41,69.48 609.84,68.06" stroke="#00f" stroke-width="1" fill="none" stroke-linejoin="round"/>
<polygon points="501.2,141.87 504.2,147.42 498.2,147.42" fill="#00f" />
<polygon points="506.63,133.35 509.63,138.9 503.63,138.9" fill="#00f" />
<polygon points="512.06,126.25 515.06,131.8 509.06,131.8" fill="#00f" />
<polygon points="517.5,119.43 520.5,124.98 514.5,124.98" fill="#00f" />
<polygon points="522.93,112.76 525.93,118.31 519.93,118.31" fill="#00f" />
<polygon points="528.36,107.79 531.36,113.34 525.36,113.34" fill="#00f" />
<polygon points="533.79,103.53 536.79,109.08 530.79,109.08" fill="#00f" />
<polygon points="539.23,99.27 542.23,104.82 536.23,104.82" fill="#00f" />
<polygon points="544.66,95.15 547.66,100.7 541.66,100.7" fill="#00f" />
<polygon points="550.09,90.61 553.09,96.16 547.09,96.16" fill="#00f" />
<polygon points="555.52,85.78 558.52,91.33 552.52,91.33" fill="#00f" />
<polygon points="560.95,79.96 563.95,85.51 557.95,85.51" fill="#00f" />
<polygon points="566.39,73.28 569.39,78.83 563.39,78.83" fill="#00f" />
<polygon points="571.82,73.99 574.82,79.54 568.82,79.54" fill="#00f" />
<polygon points="577.25,71.01 580.25,76.56 574.25,76.56" fill="#00f" />
<polygon points="582.68,68.31 585.68,73.86 579.68,73.86" fill="#00f" />
<polygon points="588.11,66.18 591.11,71.73 585.11,71.73" fill="#00f" />
<polygon points="593.55,66.61 596.55,72.16 590.55,72.16" fill="#00f" />
<polygon points="598.98,67.18 601.98,72.73 595.98,72.73" fill="#00f" />
<polygon points="604.41,66.18 607.41,71.73 601.41,71.73" fill="#00f" />
<polygon points="609.84,64.76 612.84,70.31 606.84,70.31" fill="#00f" />
<polyline points="501.2,146.02 506.63,138.21 512.06,131.11 517.5,124.72 522.93,118.33 528.36,113.36 533.79,109.39 539.23,105.13 544.66,101.29 550.09,97.03 555.52,92.35 560.95,86.67 566.39,80.28 571.82,80.7 577.25,77.86 582.68,75.31 588.11,73.32 593.55,73.6 598.98,74.03 604.41,73.18 609.84,72.18" stroke="#f0f" stroke-width="1" fill="none" stroke-linejoin="round"/>
<polygon points="501.2,148.99 503.9,144 498.5,144" fill="#f0f" />
<polygon points="506.63,141.18 509.33,136.19 503.93,136.19" fill="#f0f" />
<polygon points="512.06,134.08 514.76,129.09 509.36,129.09" fill="#f0f" />
<polygon points="517.5,127.69 520.2,122.7 514.8,122.7" fill="#f0f" />
<polygon points="522.93,121.3 525.63,116.31 520.23,116.31" fill="#f0f" />
<polygon points="528.36,116.33 531.06,111.34 525.66,111.34" fill="#f0f" />
<polygon points="533.79,112.36 536.49,107.36 531.09,107.36" fill="#f0f" />
<polygon points="539.23,108.1 541.93,103.1 536.52,103.1" fill="#f0f" />
<polygon points="544.66,104.26 547.36,99.27 541.96,99.27" fill="#f0f" />
<polygon points="550.09,100 552.79,95.01 547.39,95.01" fill="#f0f" />
<polygon points="555.52,95.32 558.22,90.32 552.82,90.32" fill="#f0f" />
<polygon points="560.95,89.64 563.65,84.64 558.25,84.64" fill="#f0f" />
<polygon points="566.39,83.25 569.09,78.25 563.69,78.25" fill="#f0f" />
<polygon points="571.82,83.67 574.52,78.68 569.12,78.68" fill="#f0f" />
<polygon points="577.25,80.83 579.95,75.84 574.55,75.84" fill="#f0f" />
<polygon points="582.68,78.28 585.38,73.28 579.98,73.28" fill="#f0f" />
<polygon points="588.11,76.29 590.81,71.29 585.41,71.29" fill="#f0f" />
<polygon points="593.55,76.57 596.25,71.58 590.85,71.58" fill="#f0f" />
<polygon points="598.98,77 601.68,72 596.28,72" fill="#f0f" />
<polygon points="604.41,76.15 607.11,71.15 601.71,71.15" fill="#f0f" />
<polygon points="609.84,75.15 612.54,70.16 607.14,70.16" fill="#f0f" />
<polyline points="501.2,145.88 506.63,138.35 512.06,131.54 517.5,125.29 522.93,119.18 528.36,114.21 533.79,111.23 539.23,106.83 544.66,102.43 550.09,99.3 555.52,94.76 560.95,89.51 566.39,82.83 571.82,82.55 577.25,80.56 582.68,79.14 588.11,76.16 593.55,76.3 598.98,76.3 604.41,75.73 609.84,74.31" stroke="#008000" stroke-width="1" fill="none" stroke-linejoin="round"/>
<polygon points="501.2,142.43 504.2,145.88 501.2,149.33 498.2,145.88" fill="#008000" />
<polygon points="506.63,134.9 509.63,138.35 506.63,141.8 503.63,138.35" fill="#008000" />
<polygon points="512.06,128.09 515.06,131.54 512.06,134.99 509.06,131.54" fill="#008000" />
<polygon points="517.5,121.84 520.5,125.29 517.5,128.74 514.5,125.29" fill="#008000" />
<polygon points="522.93,115.73 525.93,119.18 522.93,122.63 519.93,119.18" fill="#008000" />
<polygon points="528.36,110.76 531.36,114.21 528.36,117.66 525.36,114.21" fill="#008000" />
<polygon points="533.79,107.78 536.79,111.23 533.79,114.68 530.79,111.23" fill="#008000" />
<polygon points="539.23,103.38 542.23,106.83 539.23,110.28 536.23,106.83" fill="#008000" />
<polygon points="544.66,98.98 547.66,102.43 544.66,105.88 541.66,102.43" fill="#008000" />
<polygon points="550.09,95.85 553.09,99.3 550.09,102.75 547.09,99.3" fill="#008000" />
<polygon points="555.52,91.31 558.52,94.76 555.52,98.21 552.52,94.76" fill="#008000" />
<polygon points="560.95,86.06 563.95,89.51 560.95,92.96 557.95,89.51" fill="#008000" />
<polygon points="566.39,79.38 569.39,82.83 566.39,86.28 563.39,82.83" fill="#008000" />
<polygon points="571.82,79.1 574.82,82.55 571.82,86 568.82,82.55" fill="#008000" />
<polygon points="577.25,77.11 580.25,80.56 577.25,84.01 574.25,80.56" fill="#008000" />
<polygon points="582.68,75.69 585.68,79.14 582.68,82.59 579.68,79.14" fill="#008000" />
<polygon points="588.11,72.71 591.11,76.16 588.11,79.61 585.11,76.16" fill="#008000" />
<polygon points="593.55,72.85 596.55,76.3 593.55,79.75 590.55,76.3" fill="#008000" />
<polygon points="598.98,72.85 601.98,76.3 598.98,79.75 595.98,76.3" fill="#008000" />
<polygon points="604.41,72.28 607.41,75.73 604.41,79.18 601.41,75.73" fill="#008000" />
<polygon points="609.84,70.86 612.84,74.31 609.84,77.76 606.84,74.31" fill="#008000" />
</g>
<path d="M589.1,49.9 L596.7,49.9 L596.7,116.8 L600.4,116.8 L592.9,124.3 L585.4,116.8 L589.1,116.8 Z" fill="url(#gc)" stroke="#4a6d98" stroke-width="1.5"/>
<text transform="translate(619.1,59) scale(0.91,1)" font-family='"Liberation Serif", serif' font-size="14.3" text-anchor="start" font-weight="bold" font-style="normal" fill="#000" >7mT</text>
<text transform="translate(607,120.6) scale(0.91,1)" font-family='"Liberation Serif", serif' font-size="14.3" text-anchor="start" font-weight="bold" font-style="normal" fill="#000" >14.6mT</text>
<rect x="501.2" y="33.7" width="152.1" height="113.6" fill="none" stroke="#444" stroke-width="1"/>
<line x1="498.6" y1="147.3" x2="501.2" y2="147.3" stroke="#444" stroke-width="1"/>
<line x1="499.6" y1="133.1" x2="501.2" y2="133.1" stroke="#444" stroke-width="1"/>
<line x1="498.6" y1="118.9" x2="501.2" y2="118.9" stroke="#444" stroke-width="1"/>
<line x1="499.6" y1="104.7" x2="501.2" y2="104.7" stroke="#444" stroke-width="1"/>
<line x1="498.6" y1="90.5" x2="501.2" y2="90.5" stroke="#444" stroke-width="1"/>
<line x1="499.6" y1="76.3" x2="501.2" y2="76.3" stroke="#444" stroke-width="1"/>
<line x1="498.6" y1="62.1" x2="501.2" y2="62.1" stroke="#444" stroke-width="1"/>
<line x1="499.6" y1="47.9" x2="501.2" y2="47.9" stroke="#444" stroke-width="1"/>
<line x1="498.6" y1="33.7" x2="501.2" y2="33.7" stroke="#444" stroke-width="1"/>
<line x1="501.2" y1="147.3" x2="501.2" y2="149.8" stroke="#444" stroke-width="1"/>
<line x1="512.06" y1="147.3" x2="512.06" y2="148.8" stroke="#444" stroke-width="1"/>
<line x1="522.93" y1="147.3" x2="522.93" y2="149.8" stroke="#444" stroke-width="1"/>
<line x1="533.79" y1="147.3" x2="533.79" y2="148.8" stroke="#444" stroke-width="1"/>
<line x1="544.66" y1="147.3" x2="544.66" y2="149.8" stroke="#444" stroke-width="1"/>
<line x1="555.52" y1="147.3" x2="555.52" y2="148.8" stroke="#444" stroke-width="1"/>
<line x1="566.39" y1="147.3" x2="566.39" y2="149.8" stroke="#444" stroke-width="1"/>
<line x1="577.25" y1="147.3" x2="577.25" y2="148.8" stroke="#444" stroke-width="1"/>
<line x1="588.11" y1="147.3" x2="588.11" y2="149.8" stroke="#444" stroke-width="1"/>
<line x1="598.98" y1="147.3" x2="598.98" y2="148.8" stroke="#444" stroke-width="1"/>
<line x1="609.84" y1="147.3" x2="609.84" y2="149.8" stroke="#444" stroke-width="1"/>
<line x1="620.71" y1="147.3" x2="620.71" y2="148.8" stroke="#444" stroke-width="1"/>
<line x1="631.57" y1="147.3" x2="631.57" y2="149.8" stroke="#444" stroke-width="1"/>
<line x1="642.44" y1="147.3" x2="642.44" y2="148.8" stroke="#444" stroke-width="1"/>
<line x1="653.3" y1="147.3" x2="653.3" y2="149.8" stroke="#444" stroke-width="1"/>
<text transform="translate(496.6,151.2) scale(0.96,1)" font-family='"Liberation Sans", sans-serif' font-size="11.9" text-anchor="end" font-weight="normal" font-style="normal" fill="#111" >0</text>
<text transform="translate(496.6,122.8) scale(0.96,1)" font-family='"Liberation Sans", sans-serif' font-size="11.9" text-anchor="end" font-weight="normal" font-style="normal" fill="#111" >20</text>
<text transform="translate(496.6,94.4) scale(0.96,1)" font-family='"Liberation Sans", sans-serif' font-size="11.9" text-anchor="end" font-weight="normal" font-style="normal" fill="#111" >40</text>
<text transform="translate(496.6,66) scale(0.96,1)" font-family='"Liberation Sans", sans-serif' font-size="11.9" text-anchor="end" font-weight="normal" font-style="normal" fill="#111" >60</text>
<text transform="translate(496.6,37.6) scale(0.96,1)" font-family='"Liberation Sans", sans-serif' font-size="11.9" text-anchor="end" font-weight="normal" font-style="normal" fill="#111" >80</text>
<text transform="translate(501.2,159.8) scale(0.95,1)" font-family='"Liberation Sans", sans-serif' font-size="11.9" text-anchor="middle" font-weight="normal" font-style="normal" fill="#111" >0.0</text>
<text transform="translate(522.93,159.8) scale(0.95,1)" font-family='"Liberation Sans", sans-serif' font-size="11.9" text-anchor="middle" font-weight="normal" font-style="normal" fill="#111" >0.1</text>
<text transform="translate(544.66,159.8) scale(0.95,1)" font-family='"Liberation Sans", sans-serif' font-size="11.9" text-anchor="middle" font-weight="normal" font-style="normal" fill="#111" >0.2</text>
<text transform="translate(566.39,159.8) scale(0.95,1)" font-family='"Liberation Sans", sans-serif' font-size="11.9" text-anchor="middle" font-weight="normal" font-style="normal" fill="#111" >0.3</text>
<text transform="translate(588.11,159.8) scale(0.95,1)" font-family='"Liberation Sans", sans-serif' font-size="11.9" text-anchor="middle" font-weight="normal" font-style="normal" fill="#111" >0.4</text>
<text transform="translate(609.84,159.8) scale(0.95,1)" font-family='"Liberation Sans", sans-serif' font-size="11.9" text-anchor="middle" font-weight="normal" font-style="normal" fill="#111" >0.5</text>
<text transform="translate(631.57,159.8) scale(0.95,1)" font-family='"Liberation Sans", sans-serif' font-size="11.9" text-anchor="middle" font-weight="normal" font-style="normal" fill="#111" >0.6</text>
<text transform="translate(653.3,159.8) scale(0.95,1)" font-family='"Liberation Sans", sans-serif' font-size="11.9" text-anchor="middle" font-weight="normal" font-style="normal" fill="#111" >0.7</text>
<text x="585.5" y="183.1" font-family='"Liberation Serif", serif' font-size="15.8" text-anchor="middle" font-weight="bold" font-style="normal" fill="#000" >Drain Voltage (V)</text>
<text transform="translate(473.2,95.8) rotate(-90)" x="0" y="0" font-family='"Liberation Serif", serif' font-size="15.55" font-weight="bold" text-anchor="middle" fill="#000" xml:space="preserve">Drain  current(μ A)</text>
<text x="464" y="25.5" font-family='"Liberation Sans", sans-serif' font-size="16" text-anchor="start" font-weight="bold" font-style="normal" fill="#000" >c</text>
<polyline points="60.5,244.38 61.83,244.91 63.09,245.42 64.27,245.9 65.38,246.35 66.42,246.77 67.4,247.18 68.33,247.56 69.2,247.92 70.02,248.27 70.79,248.61 71.53,248.93 72.22,249.23 72.89,249.53 73.52,249.83 74.13,250.11 74.72,250.4 75.3,250.68 75.86,250.96 76.41,251.24 76.94,251.52 77.47,251.8 77.98,252.08 78.49,252.36 78.98,252.64 79.47,252.92 79.96,253.2 80.43,253.48 80.9,253.76 81.37,254.03 81.84,254.31 82.3,254.59 82.76,254.86 83.21,255.14 83.67,255.41 84.13,255.69 84.59,255.96 85.04,256.24 85.5,256.51 85.96,256.79 86.42,257.06 86.88,257.34 87.33,257.61 87.79,257.89 88.25,258.16 88.71,258.44 89.17,258.72 89.62,259 90.08,259.28 90.54,259.56 91,259.84 91.45,260.12 91.91,260.4 92.37,260.69 92.83,260.98 93.29,261.27 93.74,261.56 94.2,261.85 94.66,262.14 95.12,262.43 95.57,262.73 96.03,263.03 96.49,263.33 96.95,263.63 97.41,263.93 97.86,264.24 98.32,264.55 98.78,264.85 99.24,265.17 99.69,265.48 100.15,265.79 100.61,266.1 101.07,266.41 101.53,266.73 101.98,267.03 102.44,267.34 102.9,267.64 103.36,267.94 103.82,268.23 104.27,268.52 104.73,268.81 105.19,269.08 105.65,269.35 106.1,269.62 106.56,269.87 107.02,270.12 107.48,270.36 107.94,270.59 108.39,270.82 108.85,271.05 109.31,271.27 109.77,271.48 110.22,271.7 110.68,271.91 111.14,272.12 111.6,272.34 112.06,272.55 112.51,272.76 112.97,272.97 113.43,273.19 113.89,273.41 114.35,273.64 114.8,273.86 115.26,274.1 115.72,274.33 116.18,274.58 116.63,274.82 117.09,275.07 117.55,275.33 118.01,275.59 118.47,275.86 118.92,276.14 119.38,276.42 119.84,276.71 120.3,277 120.75,277.31 121.21,277.62 121.67,277.93 122.13,278.26 122.59,278.59 123.04,278.93 123.5,279.28 123.96,279.64 124.42,280 124.88,280.38 125.33,280.76 125.79,281.14 126.25,281.54 126.71,281.94 127.16,282.35 127.62,282.77 128.08,283.2 128.54,283.63 129,284.08 129.45,284.53 129.91,284.98 130.37,285.45 130.83,285.92 131.29,286.41 131.74,286.9 132.2,287.4 132.66,287.91 133.12,288.42 133.57,288.95 134.03,289.49 134.49,290.03 134.95,290.59 135.41,291.15 135.86,291.73 136.32,292.31 136.78,292.91 137.24,293.51 137.69,294.13 138.15,294.75 138.61,295.39 139.07,296.04 139.53,296.69 139.98,297.36 140.44,298.04 140.9,298.74 141.36,299.44 141.81,300.15 142.27,300.88 142.73,301.62 143.19,302.37 143.65,303.13 144.1,303.9 144.56,304.69 145.02,305.48 145.48,306.28 145.94,307.08 146.39,307.88 146.85,308.67 147.31,309.45 147.77,310.22 148.22,310.96 148.68,311.69 149.14,312.38 149.6,313.05 150.06,313.68 150.51,314.27 150.97,314.82 151.43,315.32 151.89,315.78 152.34,316.18 152.8,316.53 153.26,316.83 153.72,317.08 154.18,317.28 154.63,317.44 155.09,317.56 155.55,317.63 156.01,317.66 156.47,317.65 156.92,317.6 157.38,317.51 157.84,317.39 158.3,317.24 158.75,317.05 159.21,316.83 159.67,316.58 160.13,316.3 160.59,316 161.04,315.67 161.5,315.31 161.96,314.94 162.42,314.54 162.87,314.13 163.33,313.69 163.79,313.24 164.25,312.78 164.71,312.31 165.16,311.82 165.62,311.32 166.08,310.82 166.54,310.31 167,309.8 167.45,309.28 167.91,308.76 168.37,308.23 168.83,307.71 169.28,307.18 169.74,306.65 170.2,306.11 170.66,305.58 171.12,305.05 171.57,304.51 172.03,303.97 172.49,303.44 172.95,302.9 173.41,302.37 173.86,301.83 174.32,301.3 174.78,300.76 175.24,300.23 175.69,299.7 176.15,299.17 176.61,298.64 177.07,298.12 177.53,297.6 177.98,297.08 178.44,296.56 178.9,296.05 179.36,295.54 179.81,295.03 180.27,294.53 180.73,294.04 181.19,293.54 181.65,293.06 182.1,292.57 182.56,292.1 183.02,291.62 183.48,291.16 183.93,290.69 184.39,290.24 184.85,289.78 185.31,289.34 185.77,288.89 186.22,288.45 186.68,288.02 187.14,287.58 187.6,287.16 188.06,286.73 188.51,286.31 188.97,285.89 189.43,285.48 189.89,285.06 190.34,284.65 190.8,284.25 191.26,283.84 191.73,283.43 192.2,283.03 192.67,282.62 193.14,282.21 193.63,281.8 194.12,281.38 194.61,280.96 195.12,280.53 195.63,280.1 196.16,279.66 196.69,279.21 197.24,278.76 197.8,278.29 198.38,277.82 198.97,277.33 199.58,276.83 200.21,276.31 200.88,275.77 201.57,275.21 202.31,274.63 203.08,274.02 203.9,273.38 204.77,272.72 205.7,272.01 206.68,271.27 207.72,270.5 208.83,269.68 210.01,268.82 211.27,267.91 212.6,266.96" stroke="#8a0a80" stroke-width="1.4" fill="none" stroke-linejoin="round"/>
<polyline points="60.5,246.3 61.83,246.73 63.09,247.14 64.27,247.53 65.38,247.9 66.42,248.24 67.4,248.56 68.33,248.87 69.2,249.17 70.02,249.45 70.79,249.71 71.53,249.97 72.22,250.22 72.89,250.46 73.52,250.7 74.13,250.93 74.72,251.16 75.3,251.39 75.86,251.63 76.41,251.86 76.94,252.09 77.47,252.33 77.98,252.56 78.49,252.8 78.98,253.04 79.47,253.28 79.96,253.52 80.43,253.76 80.9,254.01 81.37,254.25 81.84,254.5 82.3,254.75 82.76,255 83.21,255.26 83.67,255.51 84.13,255.77 84.59,256.03 85.04,256.29 85.5,256.55 85.96,256.82 86.42,257.08 86.88,257.35 87.33,257.62 87.79,257.89 88.25,258.17 88.71,258.44 89.17,258.72 89.62,259 90.08,259.28 90.54,259.56 91,259.84 91.45,260.12 91.91,260.4 92.37,260.69 92.83,260.98 93.29,261.27 93.74,261.56 94.2,261.85 94.66,262.14 95.12,262.43 95.57,262.73 96.03,263.03 96.49,263.33 96.95,263.63 97.41,263.93 97.86,264.24 98.32,264.55 98.78,264.86 99.24,265.17 99.69,265.48 100.15,265.8 100.61,266.12 101.07,266.44 101.53,266.76 101.98,267.09 102.44,267.42 102.9,267.76 103.36,268.1 103.82,268.44 104.27,268.79 104.73,269.14 105.19,269.5 105.65,269.86 106.1,270.23 106.56,270.6 107.02,270.98 107.48,271.36 107.94,271.75 108.39,272.14 108.85,272.54 109.31,272.93 109.77,273.33 110.22,273.74 110.68,274.14 111.14,274.55 111.6,274.96 112.06,275.37 112.51,275.78 112.97,276.19 113.43,276.6 113.89,277.01 114.35,277.42 114.8,277.84 115.26,278.25 115.72,278.66 116.18,279.07 116.63,279.48 117.09,279.9 117.55,280.31 118.01,280.73 118.47,281.15 118.92,281.58 119.38,282 119.84,282.43 120.3,282.86 120.75,283.3 121.21,283.73 121.67,284.18 122.13,284.62 122.59,285.07 123.04,285.53 123.5,285.99 123.96,286.45 124.42,286.91 124.88,287.38 125.33,287.84 125.79,288.32 126.25,288.79 126.71,289.26 127.16,289.74 127.62,290.22 128.08,290.7 128.54,291.18 129,291.66 129.45,292.15 129.91,292.63 130.37,293.12 130.83,293.61 131.29,294.1 131.74,294.59 132.2,295.09 132.66,295.59 133.12,296.09 133.57,296.6 134.03,297.12 134.49,297.64 134.95,298.16 135.41,298.7 135.86,299.24 136.32,299.78 136.78,300.34 137.24,300.9 137.69,301.46 138.15,302.04 138.61,302.62 139.07,303.2 139.53,303.78 139.98,304.37 140.44,304.95 140.9,305.54 141.36,306.12 141.81,306.71 142.27,307.28 142.73,307.86 143.19,308.43 143.65,309 144.1,309.56 144.56,310.11 145.02,310.65 145.48,311.18 145.94,311.7 146.39,312.21 146.85,312.7 147.31,313.18 147.77,313.64 148.22,314.08 148.68,314.5 149.14,314.91 149.6,315.29 150.06,315.64 150.51,315.98 150.97,316.28 151.43,316.56 151.89,316.82 152.34,317.04 152.8,317.23 153.26,317.39 153.72,317.53 154.18,317.63 154.63,317.7 155.09,317.75 155.55,317.76 156.01,317.75 156.47,317.71 156.92,317.63 157.38,317.53 157.84,317.4 158.3,317.24 158.75,317.05 159.21,316.83 159.67,316.58 160.13,316.3 160.59,316 161.04,315.67 161.5,315.31 161.96,314.94 162.42,314.54 162.87,314.13 163.33,313.69 163.79,313.24 164.25,312.78 164.71,312.31 165.16,311.82 165.62,311.32 166.08,310.82 166.54,310.31 167,309.8 167.45,309.28 167.91,308.76 168.37,308.23 168.83,307.71 169.28,307.18 169.74,306.65 170.2,306.11 170.66,305.58 171.12,305.05 171.57,304.51 172.03,303.97 172.49,303.44 172.95,302.9 173.41,302.37 173.86,301.83 174.32,301.3 174.78,300.76 175.24,300.23 175.69,299.7 176.15,299.17 176.61,298.64 177.07,298.12 177.53,297.6 177.98,297.08 178.44,296.56 178.9,296.05 179.36,295.54 179.81,295.03 180.27,294.53 180.73,294.04 181.19,293.54 181.65,293.06 182.1,292.57 182.56,292.1 183.02,291.62 183.48,291.16 183.93,290.69 184.39,290.24 184.85,289.78 185.31,289.34 185.77,288.89 186.22,288.45 186.68,288.02 187.14,287.58 187.6,287.16 188.06,286.73 188.51,286.31 188.97,285.89 189.43,285.48 189.89,285.06 190.34,284.65 190.8,284.25 191.26,283.84 191.73,283.43 192.2,283.03 192.67,282.62 193.14,282.21 193.63,281.8 194.12,281.38 194.61,280.96 195.12,280.53 195.63,280.1 196.16,279.66 196.69,279.21 197.24,278.76 197.8,278.29 198.38,277.82 198.97,277.33 199.58,276.83 200.21,276.31 200.88,275.77 201.57,275.21 202.31,274.63 203.08,274.02 203.9,273.38 204.77,272.72 205.7,272.01 206.68,271.27 207.72,270.5 208.83,269.68 210.01,268.82 211.27,267.91 212.6,266.96" stroke="#8a0a80" stroke-width="1.4" fill="none" stroke-linejoin="round"/>
<circle cx="60.5" cy="244.38" r="1.35" fill="none" stroke="#4a4aff" stroke-width="0.9"/>
<circle cx="68.11" cy="247.43" r="1.35" fill="none" stroke="#4a4aff" stroke-width="0.9"/>
<circle cx="75.71" cy="250.59" r="1.35" fill="none" stroke="#4a4aff" stroke-width="0.9"/>
<circle cx="83.31" cy="255.22" r="1.35" fill="none" stroke="#4a4aff" stroke-width="0.9"/>
<circle cx="90.92" cy="259.73" r="1.35" fill="none" stroke="#4a4aff" stroke-width="0.9"/>
<circle cx="98.52" cy="264.59" r="1.35" fill="none" stroke="#4a4aff" stroke-width="0.9"/>
<circle cx="106.13" cy="270.01" r="1.35" fill="none" stroke="#4a4aff" stroke-width="0.9"/>
<circle cx="113.73" cy="273.17" r="1.35" fill="none" stroke="#4a4aff" stroke-width="0.9"/>
<circle cx="121.34" cy="277.35" r="1.35" fill="none" stroke="#4a4aff" stroke-width="0.9"/>
<circle cx="128.94" cy="283.67" r="1.35" fill="none" stroke="#4a4aff" stroke-width="0.9"/>
<circle cx="136.55" cy="292.14" r="1.35" fill="none" stroke="#4a4aff" stroke-width="0.9"/>
<circle cx="144.15" cy="303.43" r="1.35" fill="none" stroke="#4a4aff" stroke-width="0.9"/>
<circle cx="151.76" cy="318.1" r="1.35" fill="none" stroke="#4a4aff" stroke-width="0.9"/>
<circle cx="159.36" cy="318.1" r="1.35" fill="none" stroke="#4a4aff" stroke-width="0.9"/>
<circle cx="166.97" cy="309.97" r="1.35" fill="none" stroke="#4a4aff" stroke-width="0.9"/>
<circle cx="174.57" cy="300.94" r="1.35" fill="none" stroke="#4a4aff" stroke-width="0.9"/>
<circle cx="182.18" cy="292.25" r="1.35" fill="none" stroke="#4a4aff" stroke-width="0.9"/>
<circle cx="189.78" cy="285.02" r="1.35" fill="none" stroke="#4a4aff" stroke-width="0.9"/>
<circle cx="197.39" cy="278.59" r="1.35" fill="none" stroke="#4a4aff" stroke-width="0.9"/>
<circle cx="204.99" cy="272.38" r="1.35" fill="none" stroke="#4a4aff" stroke-width="0.9"/>
<circle cx="212.6" cy="266.96" r="1.35" fill="none" stroke="#4a4aff" stroke-width="0.9"/>
<circle cx="60.5" cy="246.3" r="1.35" fill="none" stroke="#4a4aff" stroke-width="0.9"/>
<circle cx="68.11" cy="248.78" r="1.35" fill="none" stroke="#4a4aff" stroke-width="0.9"/>
<circle cx="75.71" cy="251.27" r="1.35" fill="none" stroke="#4a4aff" stroke-width="0.9"/>
<circle cx="83.31" cy="255.22" r="1.35" fill="none" stroke="#4a4aff" stroke-width="0.9"/>
<circle cx="90.92" cy="259.73" r="1.35" fill="none" stroke="#4a4aff" stroke-width="0.9"/>
<circle cx="98.52" cy="264.59" r="1.35" fill="none" stroke="#4a4aff" stroke-width="0.9"/>
<circle cx="106.13" cy="270.01" r="1.35" fill="none" stroke="#4a4aff" stroke-width="0.9"/>
<circle cx="113.73" cy="276.89" r="1.35" fill="none" stroke="#4a4aff" stroke-width="0.9"/>
<circle cx="121.34" cy="283.67" r="1.35" fill="none" stroke="#4a4aff" stroke-width="0.9"/>
<circle cx="128.94" cy="291.57" r="1.35" fill="none" stroke="#4a4aff" stroke-width="0.9"/>
<circle cx="136.55" cy="299.7" r="1.35" fill="none" stroke="#4a4aff" stroke-width="0.9"/>
<circle cx="144.15" cy="309.97" r="1.35" fill="none" stroke="#4a4aff" stroke-width="0.9"/>
<circle cx="151.76" cy="318.1" r="1.35" fill="none" stroke="#4a4aff" stroke-width="0.9"/>
<circle cx="159.36" cy="318.1" r="1.35" fill="none" stroke="#4a4aff" stroke-width="0.9"/>
<circle cx="166.97" cy="309.97" r="1.35" fill="none" stroke="#4a4aff" stroke-width="0.9"/>
<circle cx="174.57" cy="300.94" r="1.35" fill="none" stroke="#4a4aff" stroke-width="0.9"/>
<circle cx="182.18" cy="292.25" r="1.35" fill="none" stroke="#4a4aff" stroke-width="0.9"/>
<circle cx="189.78" cy="285.02" r="1.35" fill="none" stroke="#4a4aff" stroke-width="0.9"/>
<circle cx="197.39" cy="278.59" r="1.35" fill="none" stroke="#4a4aff" stroke-width="0.9"/>
<circle cx="204.99" cy="272.38" r="1.35" fill="none" stroke="#4a4aff" stroke-width="0.9"/>
<circle cx="212.6" cy="266.96" r="1.35" fill="none" stroke="#4a4aff" stroke-width="0.9"/>
<path d="M60.5,211.3 L212.6,211.3 L212.6,324.2 L60.5,324.2 Z" fill="none" stroke="#000" stroke-width="1.1"/>
<line x1="57.9" y1="324.2" x2="60.5" y2="324.2" stroke="#000" stroke-width="1"/>
<line x1="58.9" y1="312.91" x2="60.5" y2="312.91" stroke="#000" stroke-width="1"/>
<line x1="57.9" y1="301.62" x2="60.5" y2="301.62" stroke="#000" stroke-width="1"/>
<line x1="58.9" y1="290.33" x2="60.5" y2="290.33" stroke="#000" stroke-width="1"/>
<line x1="57.9" y1="279.04" x2="60.5" y2="279.04" stroke="#000" stroke-width="1"/>
<line x1="58.9" y1="267.75" x2="60.5" y2="267.75" stroke="#000" stroke-width="1"/>
<line x1="57.9" y1="256.46" x2="60.5" y2="256.46" stroke="#000" stroke-width="1"/>
<line x1="58.9" y1="245.17" x2="60.5" y2="245.17" stroke="#000" stroke-width="1"/>
<line x1="57.9" y1="233.88" x2="60.5" y2="233.88" stroke="#000" stroke-width="1"/>
<line x1="58.9" y1="222.59" x2="60.5" y2="222.59" stroke="#000" stroke-width="1"/>
<line x1="57.9" y1="211.3" x2="60.5" y2="211.3" stroke="#000" stroke-width="1"/>
<line x1="60.5" y1="324.2" x2="60.5" y2="326.7" stroke="#000" stroke-width="1"/>
<line x1="79.51" y1="324.2" x2="79.51" y2="325.7" stroke="#000" stroke-width="1"/>
<line x1="98.53" y1="324.2" x2="98.53" y2="326.7" stroke="#000" stroke-width="1"/>
<line x1="117.54" y1="324.2" x2="117.54" y2="325.7" stroke="#000" stroke-width="1"/>
<line x1="136.55" y1="324.2" x2="136.55" y2="326.7" stroke="#000" stroke-width="1"/>
<line x1="155.56" y1="324.2" x2="155.56" y2="325.7" stroke="#000" stroke-width="1"/>
<line x1="174.57" y1="324.2" x2="174.57" y2="326.7" stroke="#000" stroke-width="1"/>
<line x1="193.59" y1="324.2" x2="193.59" y2="325.7" stroke="#000" stroke-width="1"/>
<line x1="212.6" y1="324.2" x2="212.6" y2="326.7" stroke="#000" stroke-width="1"/>
<text x="56.4" y="328.3" font-family='"Liberation Sans", sans-serif' font-size="12" text-anchor="end" font-weight="normal" font-style="normal" fill="#111" >0</text>
<text x="56.4" y="305.72" font-family='"Liberation Sans", sans-serif' font-size="12" text-anchor="end" font-weight="normal" font-style="normal" fill="#111" >20</text>
<text x="56.4" y="283.14" font-family='"Liberation Sans", sans-serif' font-size="12" text-anchor="end" font-weight="normal" font-style="normal" fill="#111" >40</text>
<text x="56.4" y="260.56" font-family='"Liberation Sans", sans-serif' font-size="12" text-anchor="end" font-weight="normal" font-style="normal" fill="#111" >60</text>
<text x="56.4" y="237.98" font-family='"Liberation Sans", sans-serif' font-size="12" text-anchor="end" font-weight="normal" font-style="normal" fill="#111" >80</text>
<text x="56.4" y="215.4" font-family='"Liberation Sans", sans-serif' font-size="12" text-anchor="end" font-weight="normal" font-style="normal" fill="#111" >100</text>
<text x="60.5" y="335.7" font-family='"Liberation Sans", sans-serif' font-size="10.5" text-anchor="middle" font-weight="normal" font-style="normal" fill="#111" >-2</text>
<text x="98.53" y="335.7" font-family='"Liberation Sans", sans-serif' font-size="10.5" text-anchor="middle" font-weight="normal" font-style="normal" fill="#111" >-1</text>
<text x="136.55" y="335.7" font-family='"Liberation Sans", sans-serif' font-size="10.5" text-anchor="middle" font-weight="normal" font-style="normal" fill="#111" >0</text>
<text x="174.57" y="335.7" font-family='"Liberation Sans", sans-serif' font-size="10.5" text-anchor="middle" font-weight="normal" font-style="normal" fill="#111" >1</text>
<text x="212.6" y="335.7" font-family='"Liberation Sans", sans-serif' font-size="10.5" text-anchor="middle" font-weight="normal" font-style="normal" fill="#111" >2</text>
<text x="138.3" y="358.7" font-family='"Liberation Serif", serif' font-size="15.8" text-anchor="middle" font-weight="bold" font-style="normal" fill="#000" >Gate Voltage (V)</text>
<text transform="translate(14,271.5) rotate(-90)" x="0" y="0" font-family='"Liberation Serif", serif' font-size="15.8" font-weight="bold" text-anchor="middle" fill="#000" xml:space="preserve">Drain current(μA)</text>
<text transform="translate(102.3,235.5) scale(0.95,1)" font-family='"Liberation Serif", serif' font-size="13.8" fill="#111"><tspan font-style="italic">V</tspan><tspan font-size="8.9">D</tspan>=0.1 V</text>
<polyline points="291.77,297.17 292.39,297.15 293.02,297.07 293.64,296.95 294.26,296.78 294.89,296.57 295.51,296.33 296.13,296.05 296.76,295.75 297.38,295.42 298,295.06 298.63,294.69 299.25,294.3 299.87,293.9 300.5,293.45 301.12,292.86 301.74,292.14 302.37,291.3 302.99,290.36 303.61,289.33 304.24,288.23 304.86,287.07 305.48,285.87 306.11,284.63 306.73,283.38 307.35,282.13 307.98,280.89 308.6,279.66 309.23,278.35 309.85,276.96 310.47,275.49 311.1,273.97 311.72,272.4 312.34,270.81 312.97,269.21 313.59,267.62 314.21,266.04 314.84,264.49 315.46,263 316.08,261.57 316.71,260.22 317.33,258.88 317.95,257.53 318.58,256.17 319.2,254.82 319.82,253.49 320.45,252.19 321.07,250.93 321.69,249.71 322.32,248.55 322.94,247.47 323.56,246.46 324.19,245.54 324.81,244.73 325.43,243.98 326.06,243.25 326.68,242.55 327.3,241.87 327.93,241.23 328.55,240.61 329.17,240.03 329.8,239.49 330.42,238.99 331.04,238.53 331.67,238.11 332.29,237.75 332.91,237.43 333.54,237.16 334.16,236.91 334.78,236.67 335.41,236.45 336.03,236.24 336.65,236.04 337.28,235.85 337.9,235.67 338.52,235.5 339.15,235.34 339.77,235.18 340.39,235.04 341.02,234.89 341.64,234.76 342.26,234.62 342.89,234.49 343.51,234.36 344.13,234.24 344.76,234.11 345.38,233.98 346,233.85 346.63,233.73 347.25,233.6 347.88,233.48 348.5,233.36 349.12,233.25 349.75,233.13 350.37,233.02 350.99,232.9 351.62,232.79 352.24,232.68 352.86,232.58 353.49,232.47 354.11,232.37 354.73,232.27 355.36,232.16 355.98,232.06 356.6,231.97 357.23,231.87 357.85,231.77 358.47,231.68 359.1,231.58 359.72,231.49 360.34,231.4 360.97,231.31 361.59,231.22 362.21,231.13 362.84,231.04 363.46,230.95 364.08,230.86 364.71,230.77 365.33,230.69 365.95,230.6 366.58,230.52 367.2,230.43 367.82,230.34 368.45,230.26 369.07,230.17 369.69,230.09 370.32,230 370.94,229.92 371.56,229.83 372.19,229.75 372.81,229.66 373.43,229.58 374.06,229.49 374.68,229.41 375.3,229.32 375.93,229.23 376.55,229.15 377.17,229.06 377.8,228.98 378.42,228.89 379.04,228.81 379.67,228.72 380.29,228.64 380.91,228.56 381.54,228.47 382.16,228.39 382.78,228.31 383.41,228.22 384.03,228.14 384.65,228.06 385.28,227.97 385.9,227.89 386.53,227.81 387.15,227.73 387.77,227.65 388.4,227.57 389.02,227.49 389.64,227.41 390.27,227.33 390.89,227.25 391.51,227.17 392.14,227.09 392.76,227.01 393.38,226.93 394.01,226.86 394.63,226.78 395.25,226.7 395.88,226.62 396.5,226.55 397.12,226.47 397.75,226.39 398.37,226.32 398.99,226.24 399.62,226.17 400.24,226.09 400.86,226.02 401.49,225.95 402.11,225.87 402.73,225.8 403.36,225.73 403.98,225.65 404.6,225.58 405.23,225.51 405.85,225.44 406.47,225.37 407.1,225.3 407.72,225.23 408.34,225.16 408.97,225.09 409.59,225.02 410.21,224.95 410.84,224.88 411.46,224.82 412.08,224.75 412.71,224.68 413.33,224.62 413.95,224.55 414.58,224.48 415.2,224.42 415.82,224.35" stroke="#9a1a8a" stroke-width="1.15" fill="none" stroke-linejoin="round"/>
<polygon points="291.77,293.04 292.76,295.53 295.43,295.7 293.37,297.41 294.03,300.01 291.77,298.57 289.51,300.01 290.17,297.41 288.11,295.7 290.78,295.53" fill="#0000ff" />
<polygon points="300.04,291.07 301.03,293.56 303.7,293.73 301.64,295.44 302.3,298.03 300.04,296.6 297.78,298.03 298.44,295.44 296.38,293.73 299.05,293.56" fill="#0000ff" />
<polygon points="308.31,275.83 309.3,278.32 311.97,278.49 309.91,280.19 310.57,282.79 308.31,281.36 306.05,282.79 306.71,280.19 304.65,278.49 307.32,278.32" fill="#0000ff" />
<polygon points="316.58,257.2 317.57,259.69 320.24,259.86 318.18,261.57 318.84,264.16 316.58,262.73 314.32,264.16 314.98,261.57 312.92,259.86 315.59,259.69" fill="#0000ff" />
<polygon points="324.85,242.18 325.84,244.67 328.51,244.84 326.45,246.55 327.11,249.15 324.85,247.71 322.59,249.15 323.25,246.55 321.19,244.84 323.86,244.67" fill="#0000ff" />
<polygon points="333.12,230.67 334.11,233.16 336.78,233.33 334.72,235.03 335.38,237.63 333.12,236.2 330.86,237.63 331.52,235.03 329.46,233.33 332.13,233.16" fill="#0000ff" />
<polygon points="374.47,225.59 375.46,228.08 378.13,228.25 376.07,229.95 376.74,232.55 374.47,231.12 372.21,232.55 372.88,229.95 370.81,228.25 373.49,228.08" fill="#0000ff" />
<polygon points="415.82,220.5 416.81,223 419.49,223.16 417.42,224.87 418.09,227.47 415.82,226.03 413.56,227.47 414.23,224.87 412.16,223.16 414.84,223" fill="#0000ff" />
<rect x="283.5" y="212.5" width="153" height="112.9" fill="none" stroke="#222" stroke-width="1.05"/>
<line x1="280.9" y1="325.4" x2="283.5" y2="325.4" stroke="#000" stroke-width="1"/>
<line x1="281.9" y1="311.29" x2="283.5" y2="311.29" stroke="#000" stroke-width="1"/>
<line x1="280.9" y1="297.17" x2="283.5" y2="297.17" stroke="#000" stroke-width="1"/>
<line x1="281.9" y1="283.06" x2="283.5" y2="283.06" stroke="#000" stroke-width="1"/>
<line x1="280.9" y1="268.95" x2="283.5" y2="268.95" stroke="#000" stroke-width="1"/>
<line x1="281.9" y1="254.84" x2="283.5" y2="254.84" stroke="#000" stroke-width="1"/>
<line x1="280.9" y1="240.72" x2="283.5" y2="240.72" stroke="#000" stroke-width="1"/>
<line x1="281.9" y1="226.61" x2="283.5" y2="226.61" stroke="#000" stroke-width="1"/>
<line x1="280.9" y1="212.5" x2="283.5" y2="212.5" stroke="#000" stroke-width="1"/>
<line x1="291.77" y1="325.4" x2="291.77" y2="327.9" stroke="#000" stroke-width="1"/>
<line x1="312.45" y1="325.4" x2="312.45" y2="326.9" stroke="#000" stroke-width="1"/>
<line x1="333.12" y1="325.4" x2="333.12" y2="327.9" stroke="#000" stroke-width="1"/>
<line x1="353.8" y1="325.4" x2="353.8" y2="326.9" stroke="#000" stroke-width="1"/>
<line x1="374.47" y1="325.4" x2="374.47" y2="327.9" stroke="#000" stroke-width="1"/>
<line x1="395.15" y1="325.4" x2="395.15" y2="326.9" stroke="#000" stroke-width="1"/>
<line x1="415.82" y1="325.4" x2="415.82" y2="327.9" stroke="#000" stroke-width="1"/>
<text x="279.2" y="329.4" font-family='"Liberation Sans", sans-serif' font-size="11.5" text-anchor="end" font-weight="normal" font-style="normal" fill="#111" >-15</text>
<text x="279.2" y="301.17" font-family='"Liberation Sans", sans-serif' font-size="11.5" text-anchor="end" font-weight="normal" font-style="normal" fill="#111" >-20</text>
<text x="279.2" y="272.95" font-family='"Liberation Sans", sans-serif' font-size="11.5" text-anchor="end" font-weight="normal" font-style="normal" fill="#111" >-25</text>
<text x="279.2" y="244.72" font-family='"Liberation Sans", sans-serif' font-size="11.5" text-anchor="end" font-weight="normal" font-style="normal" fill="#111" >-30</text>
<text x="279.2" y="216.5" font-family='"Liberation Sans", sans-serif' font-size="11.5" text-anchor="end" font-weight="normal" font-style="normal" fill="#111" >-35</text>
<text x="291.77" y="338.8" font-family='"Liberation Sans", sans-serif' font-size="11.6" text-anchor="middle" font-weight="normal" font-style="normal" fill="#111" >0</text>
<text x="333.12" y="338.8" font-family='"Liberation Sans", sans-serif' font-size="11.6" text-anchor="middle" font-weight="normal" font-style="normal" fill="#111" >1</text>
<text x="374.47" y="338.8" font-family='"Liberation Sans", sans-serif' font-size="11.6" text-anchor="middle" font-weight="normal" font-style="normal" fill="#111" >2</text>
<text x="415.82" y="338.8" font-family='"Liberation Sans", sans-serif' font-size="11.6" text-anchor="middle" font-weight="normal" font-style="normal" fill="#111" >3</text>
<text x="357.2" y="358.6" font-family='"Liberation Serif", serif' font-size="15.8" text-anchor="middle" font-weight="bold" font-style="normal" fill="#000" >Distance (mm)</text>
<text transform="translate(250.6,271.3) rotate(-90)" x="0" y="0" font-family='"Liberation Serif", serif' font-size="15.8" font-weight="bold" text-anchor="middle" fill="#000" xml:space="preserve">Drain current(μA)</text>
<text transform="translate(349.7,267.9) scale(0.97,1)" font-family='"Liberation Serif", serif' font-size="13.4" fill="#111"><tspan font-style="italic">V</tspan><tspan font-size="8.0" dy="2.5" fill="#333">D</tspan><tspan dy="-2.5">=0.1V</tspan></text>
<polyline points="517.58,233.75 518.59,234.29 519.59,234.83 520.6,235.37 521.6,235.91 522.61,236.45 523.61,236.98 524.62,237.51 525.62,238.05 526.63,238.57 527.63,239.1 528.64,239.62 529.64,240.14 530.65,240.66 531.65,241.17 532.66,241.68 533.66,242.18 534.67,242.68 535.67,243.17 536.68,243.66 537.68,244.14 538.69,244.62 539.69,245.09 540.7,245.55 541.7,246.01 542.71,246.46 543.71,246.9 544.72,247.34 545.72,247.77 546.73,248.18 547.73,248.59 548.74,249 549.74,249.39 550.75,249.77 551.76,250.14 552.76,250.51 553.77,250.86 554.77,251.21 555.78,251.54 556.78,251.86 557.79,252.17 558.79,252.47 559.8,252.75 560.8,253.03 561.81,253.29 562.81,253.54 563.82,253.78 564.82,254.01 565.83,254.22 566.83,254.43 567.84,254.63 568.84,254.82 569.85,255 570.85,255.17 571.86,255.34 572.86,255.5 573.87,255.65 574.87,255.79 575.88,255.93 576.88,256.06 577.89,256.19 578.89,256.32 579.9,256.44 580.9,256.55 581.91,256.67 582.91,256.78 583.92,256.89 584.92,256.99 585.93,257.1 586.93,257.2 587.94,257.31 588.94,257.41 589.95,257.52 590.95,257.62 591.96,257.73 592.96,257.84 593.97,257.95 594.97,258.07 595.98,258.18 596.98,258.31 597.99,258.43 598.99,258.56 600,258.7 601,258.84 602.01,258.99 603.01,259.14 604.02,259.3 605.02,259.47 606.03,259.65 607.03,259.83 608.04,260.03 609.04,260.23 610.05,260.44 611.05,260.66 612.06,260.9 613.06,261.14 614.07,261.4 615.07,261.66 616.08,261.94 617.08,262.24" stroke="#111" stroke-width="1.1" fill="none" stroke-linejoin="round"/>
<polygon points="517.58,230.35 520.98,233.75 517.58,237.15 514.18,233.75" fill="#0000ff"/>
<polygon points="516.08,234.25 519.08,234.25 517.58,235.75" fill="#fff"/>
<polygon points="538.56,241.16 541.96,244.56 538.56,247.96 535.16,244.56" fill="#0000ff"/>
<polygon points="537.06,245.06 540.06,245.06 538.56,246.56" fill="#fff"/>
<polygon points="560.5,249.55 563.9,252.95 560.5,256.35 557.1,252.95" fill="#0000ff"/>
<polygon points="559,253.45 562,253.45 560.5,254.95" fill="#fff"/>
<polygon points="588.24,253.94 591.64,257.34 588.24,260.74 584.84,257.34" fill="#0000ff"/>
<polygon points="586.74,257.84 589.74,257.84 588.24,259.34" fill="#fff"/>
<polygon points="617.08,258.84 620.48,262.24 617.08,265.64 613.68,262.24" fill="#0000ff"/>
<polygon points="615.58,262.74 618.58,262.74 617.08,264.24" fill="#fff"/>
<rect x="501.3" y="206.5" width="151.8" height="112.6" fill="none" stroke="#222" stroke-width="1.1"/>
<line x1="498.7" y1="319.1" x2="501.3" y2="319.1" stroke="#222" stroke-width="1"/>
<line x1="499.7" y1="305.03" x2="501.3" y2="305.03" stroke="#222" stroke-width="1"/>
<line x1="498.7" y1="290.95" x2="501.3" y2="290.95" stroke="#222" stroke-width="1"/>
<line x1="499.7" y1="276.88" x2="501.3" y2="276.88" stroke="#222" stroke-width="1"/>
<line x1="498.7" y1="262.8" x2="501.3" y2="262.8" stroke="#222" stroke-width="1"/>
<line x1="499.7" y1="248.73" x2="501.3" y2="248.73" stroke="#222" stroke-width="1"/>
<line x1="498.7" y1="234.65" x2="501.3" y2="234.65" stroke="#222" stroke-width="1"/>
<line x1="499.7" y1="220.57" x2="501.3" y2="220.57" stroke="#222" stroke-width="1"/>
<line x1="498.7" y1="206.5" x2="501.3" y2="206.5" stroke="#222" stroke-width="1"/>
<line x1="501.3" y1="319.1" x2="501.3" y2="321.6" stroke="#222" stroke-width="1"/>
<line x1="515.1" y1="319.1" x2="515.1" y2="320.6" stroke="#222" stroke-width="1"/>
<line x1="528.9" y1="319.1" x2="528.9" y2="321.6" stroke="#222" stroke-width="1"/>
<line x1="542.7" y1="319.1" x2="542.7" y2="320.6" stroke="#222" stroke-width="1"/>
<line x1="556.5" y1="319.1" x2="556.5" y2="321.6" stroke="#222" stroke-width="1"/>
<line x1="570.3" y1="319.1" x2="570.3" y2="320.6" stroke="#222" stroke-width="1"/>
<line x1="584.1" y1="319.1" x2="584.1" y2="321.6" stroke="#222" stroke-width="1"/>
<line x1="597.9" y1="319.1" x2="597.9" y2="320.6" stroke="#222" stroke-width="1"/>
<line x1="611.7" y1="319.1" x2="611.7" y2="321.6" stroke="#222" stroke-width="1"/>
<line x1="625.5" y1="319.1" x2="625.5" y2="320.6" stroke="#222" stroke-width="1"/>
<line x1="639.3" y1="319.1" x2="639.3" y2="321.6" stroke="#222" stroke-width="1"/>
<line x1="653.1" y1="319.1" x2="653.1" y2="320.6" stroke="#222" stroke-width="1"/>
<text x="497" y="322.4" font-family='"Liberation Sans", sans-serif' font-size="12" text-anchor="end" font-weight="normal" font-style="normal" fill="#111" >10</text>
<text x="497" y="294.25" font-family='"Liberation Sans", sans-serif' font-size="12" text-anchor="end" font-weight="normal" font-style="normal" fill="#111" >15</text>
<text x="497" y="266.1" font-family='"Liberation Sans", sans-serif' font-size="12" text-anchor="end" font-weight="normal" font-style="normal" fill="#111" >20</text>
<text x="497" y="237.95" font-family='"Liberation Sans", sans-serif' font-size="12" text-anchor="end" font-weight="normal" font-style="normal" fill="#111" >25</text>
<text x="497" y="209.8" font-family='"Liberation Sans", sans-serif' font-size="12" text-anchor="end" font-weight="normal" font-style="normal" fill="#111" >30</text>
<text x="501.3" y="331.7" font-family='"Liberation Sans", sans-serif' font-size="11" text-anchor="middle" font-weight="normal" font-style="normal" fill="#111" >6</text>
<text x="528.9" y="331.7" font-family='"Liberation Sans", sans-serif' font-size="11" text-anchor="middle" font-weight="normal" font-style="normal" fill="#111" >8</text>
<text x="556.5" y="331.7" font-family='"Liberation Sans", sans-serif' font-size="11" text-anchor="middle" font-weight="normal" font-style="normal" fill="#111" >10</text>
<text x="584.1" y="331.7" font-family='"Liberation Sans", sans-serif' font-size="11" text-anchor="middle" font-weight="normal" font-style="normal" fill="#111" >12</text>
<text x="611.7" y="331.7" font-family='"Liberation Sans", sans-serif' font-size="11" text-anchor="middle" font-weight="normal" font-style="normal" fill="#111" >14</text>
<text x="639.3" y="331.7" font-family='"Liberation Sans", sans-serif' font-size="11" text-anchor="middle" font-weight="normal" font-style="normal" fill="#111" >16</text>
<text x="585.5" y="361.4" font-family='"Liberation Serif", serif' font-size="15.8" text-anchor="middle" font-weight="bold" font-style="normal" fill="#000" >Magnetic field intensity (mT)</text>
<text transform="translate(473,260.4) rotate(-90)" x="0" y="0" font-family='"Liberation Serif", serif' font-size="15.8" font-weight="bold" text-anchor="middle" fill="#000" xml:space="preserve">Drain current(μA)</text>
<text transform="translate(525.4,237.3) scale(0.92,1)" font-family='"Liberation Serif", serif' font-size="14.2" fill="#000"><tspan font-style="italic" font-weight="bold">V</tspan><tspan font-size="9" dy="3.4">D</tspan><tspan dy="-3.4" font-weight="bold">=0.1V</tspan></text>
</svg>
</body></html>
